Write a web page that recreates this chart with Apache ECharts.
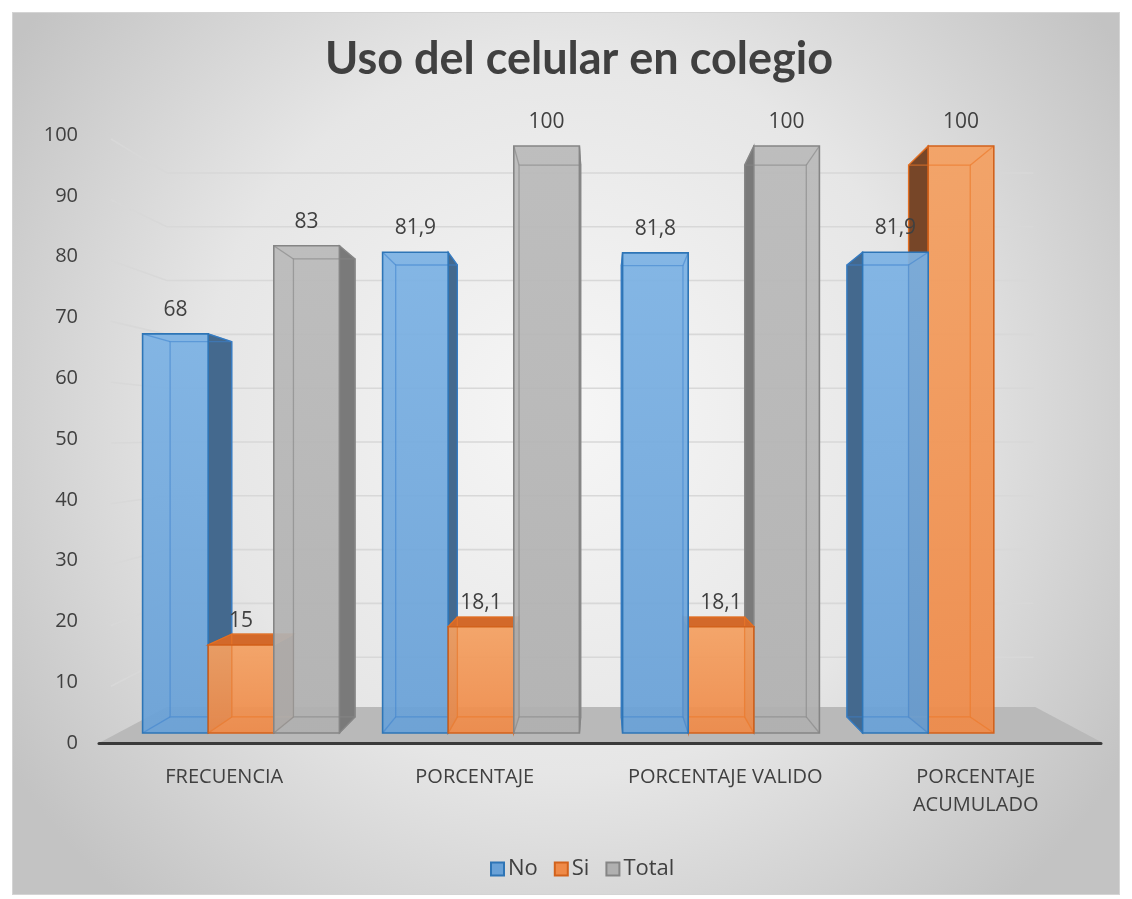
<!DOCTYPE html>
<html>
<head>
<meta charset="utf-8">
<script src="https://cdn.jsdelivr.net/npm/echarts@6/dist/echarts.min.js"></script>
<style>
  html, body { margin: 0; padding: 0; background: #fff; }
  #chart { position: absolute; left: 12px; top: 12px; width: 1108px; height: 883px;
    box-sizing: border-box; border: 1px solid #d4d4d4; }
</style>
</head>
<body>
<div id="chart"></div>
<script>
const categories = ['FRECUENCIA', 'PORCENTAJE', 'PORCENTAJE VALIDO', 'PORCENTAJE\nACUMULADO'];
const noValues = [68, 81.9, 81.8, 81.9];
const siValues = [15, 18.1, 18.1, 100];
const totalValues = [83, 100, 100, null];
const yTicks = [10, 20, 30, 40, 50, 60, 70, 80, 90, 100];

// perspective helpers (pixel space of the container)
const VX = 588, VY = 452;
const BAR_DEPTH = 0.94;
const WALL_SX = 0.865, WALL_SY = 0.885;
const GAP = 0.18;

const palette = [
  { name: 'No', top1: '#7cb2e4', front: '#69a1d7', edge: '#2e75b6', side: '#44698e', lid: '#5b92c8', inner: 'rgba(60,130,205,0.55)' },
  { name: 'Si', top1: '#f4a061', front: '#ef8a48', edge: '#d2621c', side: '#774628', lid: '#d3692a', inner: 'rgba(236,120,40,0.65)' },
  { name: 'Total', top1: '#bababa', front: '#b0b0b0', edge: '#858585', side: '#7a7a7a', lid: '#9c9c9c', inner: 'rgba(135,135,135,0.65)' }
];

function fmt(v) {
  return String(v).replace('.', ',');
}

function barRender(sIdx) {
  const c = palette[sIdx];
  return function (params, api) {
    const v = api.value(1);
    if (v == null || isNaN(v)) return;
    const cat = api.value(0);
    const base = api.coord([cat, 0]);
    const top = api.coord([cat, v]);
    const bw = api.size([1, 0])[0] * (1 - GAP) / 3;
    const x0 = base[0] + (sIdx - 1.5) * bw;
    const x1 = x0 + bw;
    const yT = top[1], yB = base[1];
    const pb = (p) => [VX + BAR_DEPTH * (p[0] - VX), VY + BAR_DEPTH * (p[1] - VY)];
    const F = [[x0, yT], [x1, yT], [x1, yB], [x0, yB]];
    const B = F.map(pb);
    const zb = Math.round((1000 - Math.abs((x0 + x1) / 2 - VX)) * 10);
    const kids = [];
    if (x1 < VX) {
      kids.push({ type: 'polygon', z2: zb, shape: { points: [F[1], B[1], B[2], F[2]] },
        style: { fill: c.side, stroke: c.edge, lineWidth: 1.2 } });
    }
    if (x0 > VX) {
      kids.push({ type: 'polygon', z2: zb, shape: { points: [F[0], B[0], B[3], F[3]] },
        style: { fill: c.side, stroke: c.edge, lineWidth: 1.2 } });
    }
    if (yT > VY) {
      kids.push({ type: 'polygon', z2: zb + 1, shape: { points: [F[0], F[1], B[1], B[0]] },
        style: { fill: c.lid, stroke: c.edge, lineWidth: 1.2 } });
    }
    kids.push({
      type: 'rect', z2: zb + 2,
      shape: { x: x0, y: yT, width: bw, height: yB - yT },
      style: {
        fill: new echarts.graphic.LinearGradient(0, 0, 0, 1, [
          { offset: 0, color: c.top1 }, { offset: 1, color: c.front }
        ]),
        opacity: 0.93
      }
    });
    // see-through edges
    kids.push({ type: 'polygon', z2: zb + 3, shape: { points: B },
      style: { fill: 'none', stroke: c.inner, lineWidth: 1.3 } });
    for (let i = 0; i < 4; i++) {
      kids.push({ type: 'line', z2: zb + 3,
        shape: { x1: F[i][0], y1: F[i][1], x2: B[i][0], y2: B[i][1] },
        style: { stroke: c.inner, lineWidth: 1.3 } });
    }
    kids.push({ type: 'rect', z2: zb + 4,
      shape: { x: x0, y: yT, width: bw, height: yB - yT },
      style: { fill: 'none', stroke: c.edge, lineWidth: 1.6 } });
    kids.push({ type: 'text', z2: zb + 5,
      style: { x: (x0 + x1) / 2, y: yT - 24, text: fmt(v), fill: '#404040',
        font: '21px "Open Sans"', align: 'center', verticalAlign: 'middle' } });
    return { type: 'group', children: kids };
  };
}

function wallRender(params, api) {
  const v = api.value(1);
  const yF = api.coord([0, v])[1];
  const cs = params.coordSys;
  const xL = cs.x, xR = cs.x + cs.width;
  const yBk = VY + WALL_SY * (yF - VY);
  const xbL = VX + WALL_SX * (xL - VX);
  const xbR = VX + WALL_SX * (xR - VX);
  return {
    type: 'polyline',
    shape: { points: [[xL + 12, yF + 4], [xbL, yBk], [xbR, yBk]] },
    style: { fill: 'none', stroke: '#d8d8d8', lineWidth: 1.6 }
  };
}

const chart = echarts.init(document.getElementById('chart'));

const floorFront = 730, floorBack = 694;
const floorL = 86, floorR = 1090;

chart.setOption({
  backgroundColor: new echarts.graphic.RadialGradient(0.5, 0.45, 0.75, [
    { offset: 0, color: '#f6f6f6' },
    { offset: 0.55, color: '#e6e6e6' },
    { offset: 1, color: '#c3c3c3' }
  ]),
  animation: false,
  textStyle: { fontFamily: '"Open Sans", sans-serif' },
  title: {
    text: 'Uso del celular en colegio',
    left: 312,
    top: 24,
    padding: 0,
    textStyle: { fontFamily: 'Lato', fontWeight: 'bold', fontSize: 45, color: '#404040' }
  },
  legend: {
    left: 472,
    top: 840,
    itemWidth: 13,
    itemHeight: 13,
    itemGap: 16,
    textStyle: { fontFamily: '"Open Sans"', fontSize: 22, color: '#404040', padding: [0, 0, 0, -1] },
    data: palette.map(p => ({ name: p.name, icon: 'rect' }))
  },
  graphic: [
    {
      type: 'polygon', z: 0,
      shape: { points: [
        [floorL, floorFront], [floorR, floorFront],
        [VX + WALL_SX * (floorR - VX), floorBack], [VX + WALL_SX * (floorL - VX), floorBack]
      ] },
      style: { fill: '#b9b9b9' }
    }
  ],
  grid: [
    { left: 108, right: 38, top: 133, bottom: 161 },
    { left: 86, right: 18, top: 122, bottom: 151 }
  ],
  xAxis: [
    { type: 'category', gridIndex: 0, data: categories, show: false },
    {
      type: 'category', gridIndex: 1, data: categories,
      axisLine: { lineStyle: { color: '#3a3a3a', width: 3 } },
      axisTick: { show: false },
      axisLabel: { interval: 0, margin: 20, fontFamily: '"Open Sans"', fontSize: 20, color: '#404040', lineHeight: 28 },
      z: 5
    }
  ],
  yAxis: [
    { type: 'value', gridIndex: 0, min: 0, max: 100, show: false },
    {
      type: 'value', gridIndex: 1, min: 0, max: 100, interval: 10,
      axisLine: { show: false }, axisTick: { show: false }, splitLine: { show: false },
      axisLabel: { margin: 21, fontFamily: '"Open Sans"', fontSize: 20, color: '#404040' }
    }
  ],
  series: [
    {
      type: 'custom', name: 'wall', xAxisIndex: 1, yAxisIndex: 1, z: 1, silent: true,
      renderItem: wallRender,
      data: yTicks.map(t => [0, t])
    }
  ].concat([noValues, siValues, totalValues].map((vals, s) => ({
    type: 'custom',
    name: palette[s].name,
    xAxisIndex: 0, yAxisIndex: 0, z: 3,
    itemStyle: { color: palette[s].front, borderColor: palette[s].edge, borderWidth: 1.5 },
    renderItem: barRender(s),
    encode: { x: 0, y: 1 },
    data: vals.map((v, i) => [i, v == null ? '-' : v])
  })))
});
</script>
</body>
</html>
